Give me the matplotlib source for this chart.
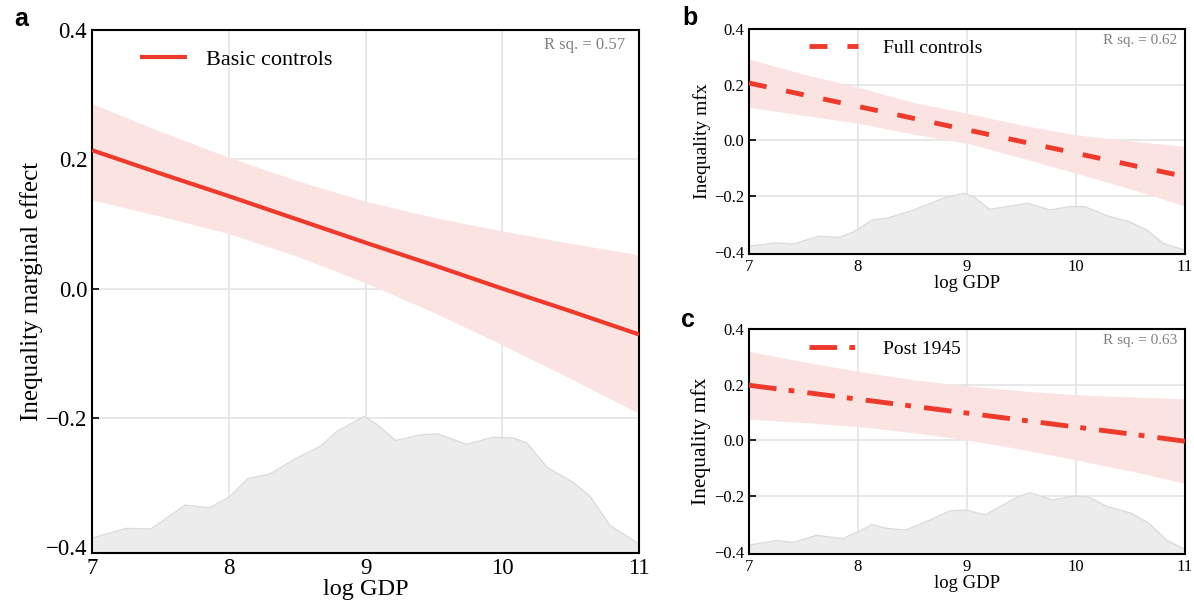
import numpy as np
import matplotlib
matplotlib.use("Agg")
import matplotlib.pyplot as plt

plt.rcParams['font.family'] = ['Liberation Serif', 'DejaVu Serif']
plt.rcParams['axes.unicode_minus'] = True

x_grid = [7, 7.5, 8, 8.5, 9, 9.5, 10, 10.5, 11]

# panel a: basic controls
line_a = [0.214, 0.178, 0.143, 0.107, 0.071, 0.036, 0.000, -0.035, -0.071]
upper_a = [0.286, 0.243, 0.203, 0.167, 0.135, 0.110, 0.089, 0.070, 0.052]
lower_a = [0.137, 0.112, 0.085, 0.050, 0.009, -0.037, -0.087, -0.139, -0.193]

# panel b: full controls
line_b = [0.206, 0.164, 0.122, 0.080, 0.038, -0.004, -0.046, -0.088, -0.130]
upper_b = [0.292, 0.238, 0.191, 0.137, 0.098, 0.055, 0.020, -0.002, -0.022]
lower_b = [0.119, 0.090, 0.062, 0.023, -0.010, -0.063, -0.118, -0.174, -0.236]

# panel c: post 1945
line_c = [0.198, 0.173, 0.148, 0.123, 0.098, 0.073, 0.048, 0.023, -0.003]
upper_c = [0.320, 0.282, 0.248, 0.218, 0.196, 0.178, 0.164, 0.156, 0.149]
lower_c = [0.076, 0.064, 0.050, 0.028, 0.002, -0.032, -0.070, -0.110, -0.154]

# density of log GDP (drawn on the y scale, baseline at the bottom)
dens_x_a = [7.0, 7.25, 7.43, 7.68, 7.86, 8.0, 8.14, 8.30, 8.48, 8.67, 8.79, 8.99,
            9.07, 9.22, 9.41, 9.53, 9.74, 9.93, 10.08, 10.18, 10.33, 10.52, 10.64, 10.79, 11.0]
dens_y_a = [-0.386, -0.371, -0.372, -0.335, -0.339, -0.323, -0.294, -0.287, -0.264, -0.244, -0.221, -0.198,
            -0.208, -0.235, -0.226, -0.225, -0.241, -0.230, -0.231, -0.239, -0.277, -0.300, -0.321, -0.367, -0.395]

dens_x_b = [7.0, 7.25, 7.41, 7.64, 7.83, 7.96, 8.13, 8.26, 8.51, 8.78, 8.97, 9.06,
            9.21, 9.36, 9.56, 9.76, 9.94, 10.08, 10.31, 10.49, 10.65, 10.80, 11.0]
dens_y_b = [-0.380, -0.368, -0.372, -0.344, -0.348, -0.328, -0.286, -0.280, -0.250, -0.208, -0.190, -0.202,
            -0.248, -0.238, -0.226, -0.250, -0.238, -0.238, -0.274, -0.292, -0.322, -0.370, -0.394]

dens_x_c = [7.0, 7.25, 7.41, 7.62, 7.86, 8.0, 8.13, 8.26, 8.44, 8.66, 8.84, 8.99,
            9.17, 9.30, 9.47, 9.58, 9.78, 9.98, 10.12, 10.29, 10.51, 10.67, 10.83, 11.0]
dens_y_c = [-0.376, -0.360, -0.366, -0.341, -0.353, -0.328, -0.302, -0.316, -0.322, -0.286, -0.254, -0.250,
            -0.268, -0.238, -0.202, -0.188, -0.214, -0.200, -0.204, -0.238, -0.262, -0.298, -0.358, -0.392]

labels = ['Basic controls', 'Full controls', 'Post 1945']
r_squared = [0.57, 0.62, 0.63]

RED = '#ee3a2c'
BAND = '#fbe3e2'

fig = plt.figure(figsize=(11.94, 6.07), dpi=100)
ax_a = fig.add_axes([0.0771, 0.0890, 0.4581, 0.8616])
ax_b = fig.add_axes([0.6273, 0.5815, 0.3652, 0.3707])
ax_c = fig.add_axes([0.6273, 0.0873, 0.3652, 0.3707])


def draw_panel(ax, line, upper, lower, dx, dy, label, r2, style, tick_fs, xl_fs, yl_fs,
               ylabel, leg_fs, leg_anchor, handlelen, textpad, r2_fs, r2_pos, ybottom):
    ax.set_xlim(7, 11)
    ax.set_ylim(ybottom, 0.4)
    ax.grid(True, color='#e2e2e2', lw=1.1, zorder=0)
    ax.set_axisbelow(True)
    ax.fill_between(dx, ybottom, dy, color='#ececec', zorder=1, lw=0)
    ax.plot(dx, dy, color='#dcdcdc', lw=1.0, zorder=1, solid_joinstyle='round')
    ax.fill_between(x_grid, lower, upper, color=BAND, lw=0, zorder=2)
    ax.plot(x_grid, line, color=RED, zorder=3, label=label, solid_capstyle='butt', **style)
    ax.set_xticks([7, 8, 9, 10, 11])
    ax.set_yticks([-0.4, -0.2, 0.0, 0.2, 0.4])
    ax.tick_params(direction='in', length=5, width=1.2, labelsize=tick_fs,
                   top=False, right=False, pad=3.5)
    for s in ax.spines.values():
        s.set_linewidth(1.5)
        s.set_color('black')
    ax.set_xlabel('log GDP', fontsize=xl_fs, labelpad=0)
    ax.set_ylabel(ylabel, fontsize=yl_fs, labelpad=2)
    ax.legend(loc='center left', bbox_to_anchor=leg_anchor, frameon=False,
              fontsize=leg_fs, handlelength=handlelen, handletextpad=textpad,
              borderpad=0, borderaxespad=0)
    ax.text(r2_pos[0], r2_pos[1], 'R sq. = %.2f' % r2, transform=ax.transAxes,
            ha='right', va='center', fontsize=r2_fs, color='#808080')


draw_panel(ax_a, line_a, upper_a, lower_a, dens_x_a, dens_y_a, labels[0], r_squared[0],
           dict(lw=3.0, linestyle='-'), 16.5, 17.5, 18, 'Inequality marginal effect',
           16, (0.088, 0.943), 2.1, 0.85, 12, (0.974, 0.971), -0.409)
draw_panel(ax_b, line_b, upper_b, lower_b, dens_x_b, dens_y_b, labels[1], r_squared[1],
           dict(lw=3.5, linestyle=(0, (3.7, 4.1))), 12, 13.5, 14, 'Inequality mfx',
           14, (0.138, 0.916), 2.5, 1.3, 11, (0.982, 0.951), -0.408)
draw_panel(ax_c, line_c, upper_c, lower_c, dens_x_c, dens_y_c, labels[2], r_squared[2],
           dict(lw=3.5, linestyle=(0, (5.7, 2.5, 1.2, 2.7))), 12, 13.5, 15.5, 'Inequality mfx',
           14, (0.138, 0.911), 2.9, 0.9, 11, (0.982, 0.951), -0.408)

for txt, (fx, fy) in zip(['a', 'b', 'c'], [(0.018, 0.968), (0.578, 0.971), (0.576, 0.472)]):
    fig.text(fx, fy, txt, fontsize=18, fontweight='bold', family='Liberation Sans',
             ha='center', va='center')

fig.savefig('out.png', dpi=100)
